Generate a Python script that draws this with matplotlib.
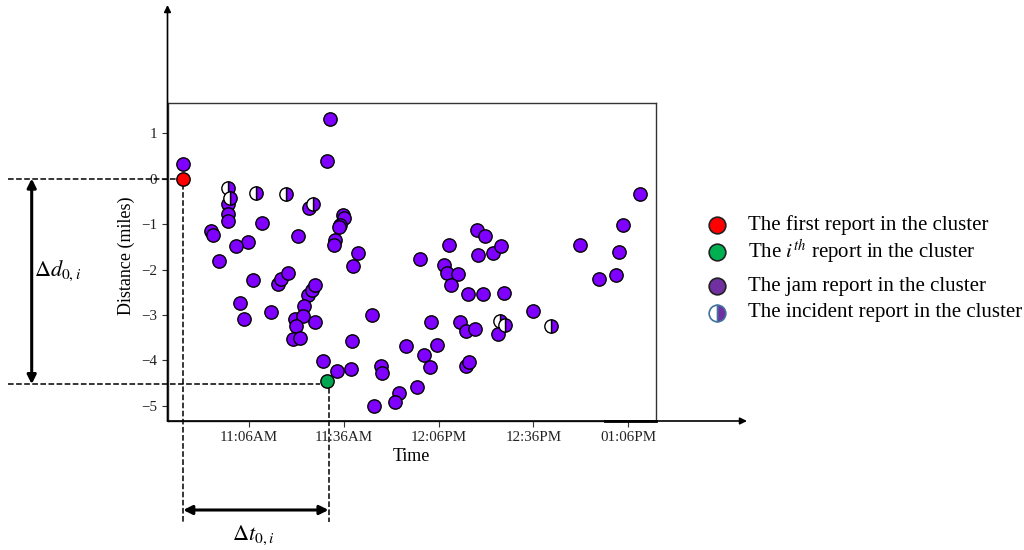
import matplotlib
matplotlib.use("Agg")
import matplotlib.pyplot as plt
import matplotlib.transforms as mtransforms
import numpy as np

plt.rcParams['font.family'] = ['Liberation Serif', 'DejaVu Serif']
plt.rcParams['mathtext.fontset'] = 'stix'

# report times (minutes after midnight) and distances (miles)
jam_time = [645.2, 691.6, 690.8, 659.3, 659.4, 659.4, 685.0, 670.0, 653.9, 654.5,
            665.6, 661.9, 681.6, 656.4, 667.4, 675.3, 676.3, 678.4, 663.2, 664.5,
            673.0, 684.8, 685.8, 686.9, 683.4, 680.6, 683.2, 680.8, 686.9, 680.0,
            682.1, 689.5, 693.8, 695.8, 696.1, 694.8, 694.5, 693.2, 692.9, 700.6,
            699.0, 704.8, 698.7, 698.3, 707.7, 708.2, 715.7, 721.5, 723.3, 725.4,
            723.5, 713.5, 712.2, 719.1, 705.6, 720.1, 729.3, 727.7, 728.8, 732.2,
            729.9, 735.4, 740.1, 746.8, 738.1, 740.7, 738.4, 743.3, 745.7, 732.8,
            734.7, 737.5, 734.7, 735.7, 744.9, 789.7, 784.4, 783.2, 770.7, 782.0,
            776.8, 755.8]
jam_dist = [0.32, 1.31, 0.38, -0.56, -0.78, -0.93, -0.65, -0.97, -1.15, -1.24,
            -1.40, -1.49, -1.26, -1.82, -2.23, -2.31, -2.21, -2.08, -2.74, -3.08,
            -2.93, -2.56, -2.45, -2.34, -2.81, -3.08, -3.03, -3.24, -3.16, -3.52,
            -3.51, -4.01, -4.24, -0.80, -0.87, -1.02, -1.07, -1.35, -1.47, -1.63,
            -1.92, -3.01, -3.57, -4.18, -4.12, -4.28, -3.68, -3.87, -4.15, -3.65,
            -3.16, -4.72, -4.92, -4.59, -5.00, -1.77, -1.46, -1.91, -2.08, -2.09,
            -2.34, -2.54, -2.54, -2.52, -1.13, -1.26, -1.68, -1.63, -1.48, -3.16,
            -3.35, -3.30, -4.13, -4.04, -3.42, -0.34, -1.02, -1.61, -1.47, -2.11,
            -2.20, -2.92]
incident_time = [659.4, 660.0, 668.2, 677.6, 686.3, 745.4, 747.0, 761.5]
incident_dist = [-0.20, -0.43, -0.32, -0.34, -0.56, -3.14, -3.22, -3.24]
first_time, first_dist = 645.2, 0.0
ith_time, ith_dist = 690.6, -4.45

xtick_pos = [666, 696, 726, 756, 786]
xtick_labels = ['11:06AM', '11:36AM', '12:06PM', '12:36PM', '01:06PM']
ytick_pos = [1, 0, -1, -2, -3, -4, -5]

legend_labels = ['The first report in the cluster',
                 'The $i^{th}$ report in the cluster',
                 'The jam report in the cluster',
                 'The incident report in the cluster']

W, H = 1024, 550
fig = plt.figure(figsize=(W / 100, H / 100), dpi=100)
ax = fig.add_axes([167.7 / W, 1 - 421 / H, 488 / W, 318 / H])

purple = '#7F00FF'
ax.plot(jam_time, jam_dist, 'o', ls='none', ms=9.6, mfc=purple, mec='black', mew=1, zorder=3)
ax.plot(incident_time, incident_dist, 'o', ls='none', ms=9.6, fillstyle='right',
        mfc=purple, markerfacecoloralt='white', mec='black', mew=1, zorder=4)
ax.plot(first_time, first_dist, 'o', ms=9.6, mfc='#FF0000', mec='black', mew=1, zorder=5)
ax.plot(ith_time, ith_dist, 'o', ms=9.6, mfc='#00A650', mec='black', mew=1, zorder=5)

ax.set_xlim(640.3, 794.7)
ax.set_ylim(-5.33, 1.66)
ax.set_xticks(xtick_pos)
ax.set_xticklabels(xtick_labels)
ax.set_yticks(ytick_pos)
ax.tick_params(labelsize=10.8, length=4, width=0.8, colors='#333333', labelcolor='#222222')
for s in ax.spines.values():
    s.set_color('#333333')
    s.set_linewidth(1.0)
ax.set_xlabel('Time', fontsize=13)
ax.set_ylabel('Distance (miles)', fontsize=13)
ax.xaxis.set_label_coords(0.5, -0.085)
ax.yaxis.set_label_coords(-0.068, 0.52)

# thick stroke on the bottom edge near the right end
ax.plot([778.6, 794.7], [-5.33, -5.33], color='black', lw=2, clip_on=False, zorder=6)

def fx(px):
    return px / W

def fy(py):
    return 1 - py / H

# outer axis arrows
arrow_kw = dict(arrowstyle='-|>', color='black', lw=1.2, mutation_scale=10, shrinkA=0, shrinkB=0)
fig.add_artist(matplotlib.patches.FancyArrowPatch((fx(167.5), fy(421)), (fx(167.5), fy(5)),
                                                  transform=fig.transFigure, **arrow_kw))
fig.add_artist(matplotlib.patches.FancyArrowPatch((fx(167.5), fy(421)), (fx(747), fy(421)),
                                                  transform=fig.transFigure, **arrow_kw))

# dashed guide lines
tr_yd = mtransforms.blended_transform_factory(fig.transFigure, ax.transData)
tr_xd = mtransforms.blended_transform_factory(ax.transData, fig.transFigure)
ax.plot([fx(8), fx(178)], [first_dist, first_dist], ls='--', color='black', lw=1.1,
        transform=tr_yd, clip_on=False, zorder=2)
ax.plot([fx(8), fx(320)], [ith_dist - 0.07, ith_dist - 0.07], ls='--', color='black', lw=1.1,
        transform=tr_yd, clip_on=False, zorder=2)
ax.plot([first_time, first_time], [fy(184), fy(522)], ls='--', color='black', lw=1.1,
        transform=tr_xd, clip_on=False, zorder=2)
ax.plot([ith_time + 0.6, ith_time + 0.6], [fy(388), fy(522)], ls='--', color='black', lw=1.1,
        transform=tr_xd, clip_on=False, zorder=2)

# delta d arrow
dbl_kw = dict(arrowstyle='<|-|>', color='black', lw=2.2, mutation_scale=13, shrinkA=0, shrinkB=0)
d_arrow = matplotlib.patches.FancyArrowPatch((fx(31.7), first_dist), (fx(31.7), ith_dist - 0.07),
                                             transform=tr_yd, **dbl_kw)
d_arrow.set_clip_on(False)
ax.add_artist(d_arrow)
fig.text(fx(58), fy(271), r'$\Delta d_{0,i}$', fontsize=16, ha='center', va='center')

# delta t arrow
t_arrow = matplotlib.patches.FancyArrowPatch((first_time, fy(510)), (ith_time + 0.6, fy(510)),
                                             transform=tr_xd, **dbl_kw)
t_arrow.set_clip_on(False)
ax.add_artist(t_arrow)
fig.text(fx(253), fy(535), r'$\Delta t_{0,i}$', fontsize=16, ha='center', va='center')

# legend
leg_y = [225, 252, 286, 313]
leg_face = ['#FF0000', '#00B050', '#7030A0', '#7030A0']
leg_edge = ['#222222', '#222222', '#222222', '#41719C']
for i, lab in enumerate(legend_labels):
    kw = dict(marker='o', ms=12, mfc=leg_face[i], mec=leg_edge[i], mew=1.2, ls='none')
    if i == 3:
        kw.update(fillstyle='right', markerfacecoloralt='white')
    fig.add_artist(matplotlib.lines.Line2D([fx(716.7)], [fy(leg_y[i])], transform=fig.transFigure, **kw))
    fig.text(fx(748), fy(leg_y[i]), lab, fontsize=15, ha='left', va='center')

fig.savefig('out.png', dpi=100)
